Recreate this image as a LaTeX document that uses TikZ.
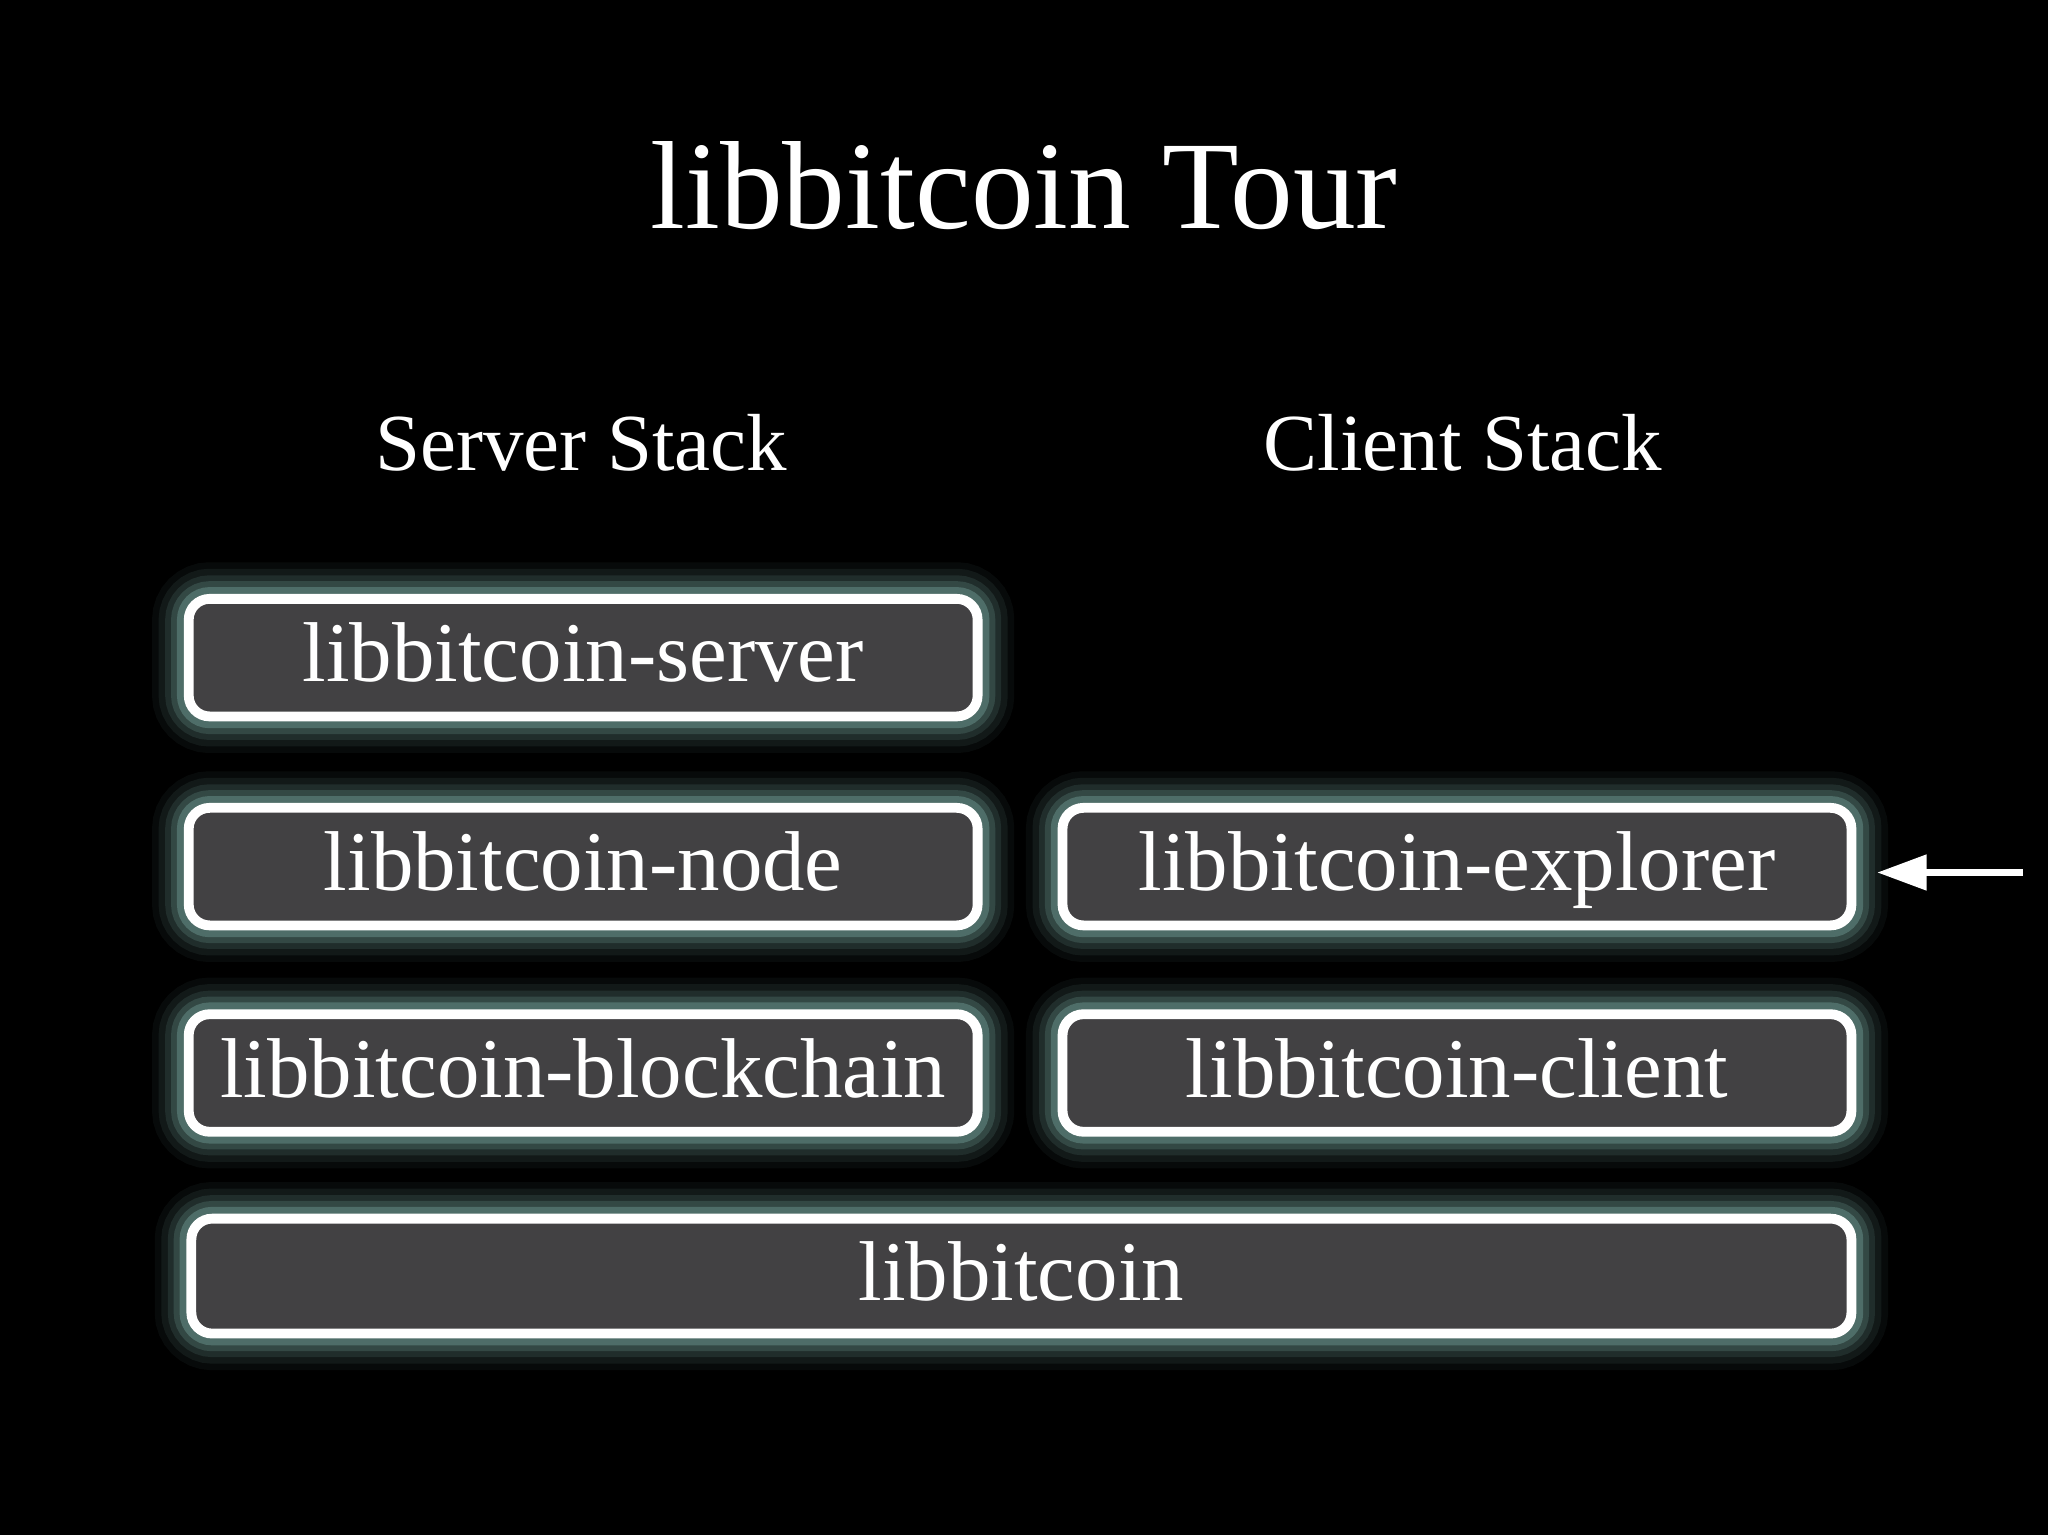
\documentclass[tikz,border=0pt]{standalone}
\usepackage{fontspec}
\setmainfont{Liberation Serif}
\usetikzlibrary{arrows.meta}
\definecolor{boxgray}{RGB}{66,65,67}
\definecolor{glowc}{RGB}{130,180,172}
\begin{document}
\begin{tikzpicture}[x=1pt,y=-1pt,
  glow/.style={
    preaction={draw=glowc,line width=56pt,draw opacity=0.06},
    preaction={draw=glowc,line width=46pt,draw opacity=0.09},
    preaction={draw=glowc,line width=36pt,draw opacity=0.13},
    preaction={draw=glowc,line width=27pt,draw opacity=0.2},
    preaction={draw=glowc,line width=18pt,draw opacity=0.35}},
  stackbox/.style={glow,draw=white,line width=7.5pt,fill=boxgray,rounded corners=16pt,
    text=white,font=\fontsize{65}{70}\selectfont,inner sep=0pt,
    text height=44pt,text depth=7pt,minimum width=604pt,minimum height=90pt},
  heading/.style={text=white,font=\fontsize{62}{70}\selectfont,anchor=base,inner sep=0pt},
  arr/.style={draw=white,line width=6pt,-{Triangle[length=38pt,width=26pt]}}]
\fill[black] (0,0) rectangle (1568,1175);
\useasboundingbox (0,0) rectangle (1568,1175);
\node[text=white,font=\fontsize{96}{110}\selectfont,anchor=base,inner sep=0pt] (title) at (784,175) {libbitcoin Tour};
\node[heading] (srvh) at (445,360) {Server Stack};
\node[heading] (clih) at (1120,360) {Client Stack};
\node[stackbox] (server) at (446.5,503.5) {libbitcoin-server};
\node[stackbox] (node) at (446.5,663.5) {libbitcoin-node};
\node[stackbox] (blockchain) at (446.5,821.5) {libbitcoin-blockchain};
\node[stackbox] (explorer) at (1115.5,663.5) {libbitcoin-explorer};
\node[stackbox] (client) at (1115.5,821.5) {libbitcoin-client};
\node[stackbox,minimum width=1271pt,minimum height=88pt] (lib) at (782,977) {libbitcoin};
\coordinate (arrstart) at (1549,668);
\coordinate (arrtip) at (1437,668);
\draw[arr] (arrstart) -- (arrtip);
\end{tikzpicture}
\end{document}
